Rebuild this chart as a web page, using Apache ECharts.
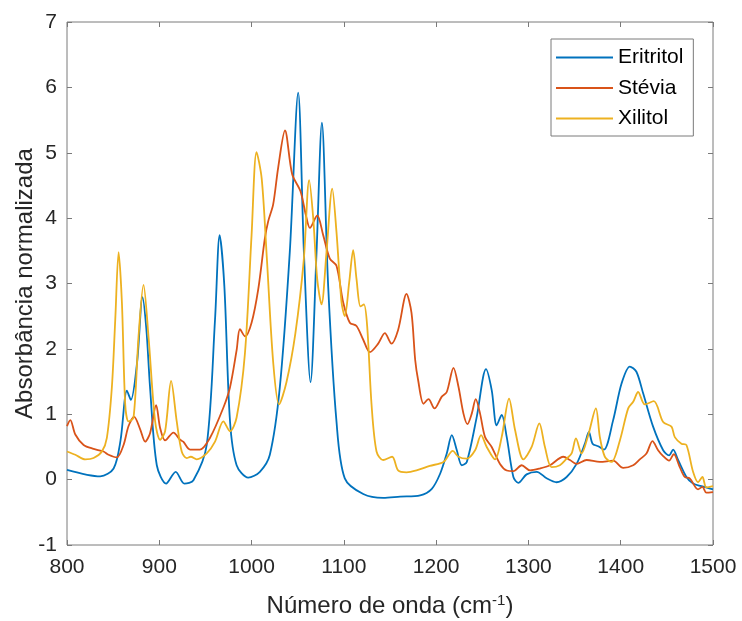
<!DOCTYPE html>
<html>
<head>
<meta charset="utf-8">
<script src="https://cdn.jsdelivr.net/npm/echarts@6/dist/echarts.min.js"></script>
<style>
html,body{margin:0;padding:0;background:#fff;}
#chart{width:742px;height:621px;}
</style>
</head>
<body>
<div id="chart"></div>
<script>
// Wavenumber positions and normalized absorbance
const eritritolX = [800,836,850.5,858,864.9,869.2,876,881.8,886,890,897.3,907.4,917.8,927.2,937,951.4,960.4,965.4,970.5,976.6,983.8,996.4,1009,1019.8,1030.6,1041.4,1050.5,1056.7,1063.9,1070.4,1076.2,1083,1092,1101,1121,1142.6,1161,1182.7,1195.3,1204.3,1211.5,1217,1222.4,1227.8,1233.2,1244,1254,1260.2,1265.6,1271,1276.5,1283.7,1289,1298,1309,1319.7,1330.5,1341.4,1352.2,1361.2,1365.5,1369.5,1375.6,1381.8,1391.8,1400.9,1409.9,1417,1424.3,1435.1,1446,1452.4,1456.8,1462.2,1471.2,1478.4,1487.4,1500];
const eritritolY = [0.15,0.05,0.17,0.6,1.36,1.22,1.8,2.79,2.3,1.41,0.22,-0.06,0.12,-0.06,-0.01,0.53,2.45,3.74,2.96,0.9,0.22,0.03,0.12,0.38,1.41,3.48,5.92,3.48,1.49,3.48,5.46,2.96,0.89,0.02,-0.22,-0.28,-0.26,-0.24,-0.14,0.09,0.40,0.68,0.45,0.22,0.27,0.96,1.69,1.37,0.83,0.99,0.65,0.04,-0.05,0.08,0.12,0.02,-0.04,0.04,0.24,0.55,0.73,0.55,0.51,0.46,0.91,1.47,1.73,1.65,1.32,0.81,0.45,0.37,0.46,0.30,0.04,-0.06,-0.10,-0.15];

const steviaX = [800,803.6,809,818,828.8,839.6,845,854,861.3,866.7,872.8,879.3,884.7,890,896.6,900.9,906.3,915.3,922.5,926,933.3,944.1,955,969.4,976.6,983.8,987.4,993,1000,1007.2,1014.4,1018,1023.4,1028.8,1036.2,1044,1053,1058.8,1063.2,1071.1,1077.6,1084.8,1092,1099.3,1106.5,1113.7,1121,1128.2,1137.2,1144.4,1151.6,1158.8,1167.9,1173.3,1177.3,1180.5,1186.3,1191.7,1198.2,1206.1,1211.5,1218.8,1224.2,1229.6,1233.9,1238.6,1242.9,1247.6,1253,1260.2,1269.2,1276.5,1283.7,1292.7,1301.7,1312.5,1323.3,1337.8,1345,1352.2,1363,1377.4,1391.8,1402.7,1413.5,1420.7,1427.9,1434.4,1440.5,1446,1452.4,1457.5,1464,1469.4,1474.8,1483.8,1488.5,1492.8,1500];
const steviaY = [0.82,0.91,0.69,0.53,0.47,0.43,0.38,0.34,0.53,0.82,0.96,0.77,0.58,0.71,1.14,0.79,0.60,0.72,0.61,0.58,0.46,0.46,0.64,1.10,1.41,1.98,2.30,2.19,2.40,2.91,3.69,3.95,4.21,4.77,5.34,4.67,4.41,4.05,3.85,4.04,3.74,3.38,3.27,2.71,2.40,2.35,2.14,1.95,2.08,2.24,2.08,2.29,2.84,2.55,1.83,1.52,1.16,1.23,1.09,1.27,1.34,1.71,1.42,1.01,0.85,1.01,1.23,1.01,0.65,0.50,0.24,0.14,0.13,0.22,0.14,0.17,0.22,0.35,0.30,0.24,0.30,0.27,0.29,0.18,0.22,0.31,0.40,0.59,0.45,0.36,0.29,0.39,0.19,0.04,0.02,-0.15,-0.11,-0.20,-0.19];

const xilitolX = [800,809,819.8,828.8,837.8,843.2,848.6,852.3,855.9,859.5,863.1,866.7,872.1,877.5,882.9,888.3,895.5,900.9,906.3,912.8,918.9,924.3,929.7,934.1,940.5,951.4,960.4,969.4,976.6,983.8,992.8,1000,1005.4,1011,1016.5,1023.4,1029.8,1037.8,1047.5,1056.5,1062.4,1066.8,1071.1,1075.8,1081.2,1087.4,1092,1097.5,1101,1105.8,1110.1,1113.7,1118,1121.7,1125.3,1130,1135.4,1142.6,1152.3,1158.8,1167.9,1178.7,1193.1,1207.9,1218,1224.2,1233.2,1242.2,1248.7,1254.8,1263.8,1271,1279,1285.5,1294.5,1303.5,1311.8,1317.9,1325.1,1334.1,1341.4,1346.8,1351.5,1357.6,1364.8,1373.1,1377.4,1382.8,1390,1399.1,1408.1,1413.5,1418.9,1426.1,1435.8,1446,1455,1458.6,1465.8,1471.2,1478.4,1483.8,1488.5,1492.8,1500];
const xilitolY = [0.43,0.38,0.31,0.33,0.43,0.64,1.41,2.45,3.48,2.71,1.15,0.89,0.95,2.19,2.98,2.19,0.89,0.61,0.74,1.51,0.89,0.43,0.33,0.35,0.31,0.40,0.58,0.89,0.74,0.95,1.93,3.74,5.01,4.6,3.4,1.8,1.15,1.49,2.24,3.35,4.58,4.0,3.07,2.68,3.48,4.45,3.79,2.71,2.50,3.02,3.51,3.07,2.65,2.68,2.34,1.15,0.43,0.30,0.35,0.14,0.11,0.14,0.21,0.27,0.44,0.35,0.32,0.45,0.68,0.50,0.31,0.65,1.24,0.76,0.31,0.50,0.86,0.50,0.19,0.22,0.32,0.40,0.63,0.40,0.68,1.09,0.65,0.35,0.27,0.60,1.09,1.19,1.34,1.15,1.20,0.88,0.81,0.65,0.55,0.53,0.12,-0.04,0.04,-0.12,-0.10];

const seriesNames = ['Eritritol','Stévia','Xilitol'];
const seriesColors = ['#0072BD','#D95319','#EDB120'];

function pairs(xs, ys){ return xs.map((x,i)=>[x, ys[i]]); }
const allData = [pairs(eritritolX, eritritolY), pairs(steviaX, steviaY), pairs(xilitolX, xilitolY)];

const font = 'Liberation Sans, Arial, Helvetica, sans-serif';
const boxColor = '#7a7a7a';
const textColor = '#262626';
const tickStyle = {show:true, inside:true, length:5, lineStyle:{color:boxColor}};

const chart = echarts.init(document.getElementById('chart'), null, {renderer:'canvas'});
chart.setOption({
  animation:false,
  backgroundColor:'#ffffff',
  grid:{left:67, right:29, top:22, bottom:76, outerBoundsMode:'none', containLabel:false, show:true, borderColor:boxColor, borderWidth:1, backgroundColor:'transparent'},
  legend:{
    data:seriesNames,
    orient:'vertical',
    left:551, top:39,
    padding:[8,10,7,5],
    itemWidth:57, itemHeight:2, itemGap:9.5,
    icon:'rect',
    borderColor:boxColor, borderWidth:1, backgroundColor:'#fff',
    textStyle:{fontFamily:font, fontSize:21, color:'#000', lineHeight:20}
  },
  xAxis:[{
    type:'value', min:800, max:1500, interval:100, position:'bottom',
    name:'{t|Número de onda (cm}{s|-1}{t|)}',
    nameLocation:'middle', nameGap:48, nameMoveOverlap:false,
    nameTextStyle:{fontFamily:font, fontSize:24, color:textColor,
      rich:{t:{fontFamily:font, fontSize:24, color:textColor}, s:{fontFamily:font, fontSize:15, color:textColor, verticalAlign:'top', padding:[0,0,12,0]}}},
    axisLine:{show:false, onZero:false},
    axisTick:tickStyle,
    axisLabel:{fontFamily:font, fontSize:21, color:textColor, margin:12, formatter:v=>String(v)},
    splitLine:{show:false}
  },{
    type:'value', min:800, max:1500, interval:100, position:'top',
    axisLine:{show:false, onZero:false},
    axisTick:tickStyle,
    axisLabel:{show:false}, splitLine:{show:false}
  }],
  yAxis:[{
    type:'value', min:-1, max:7, interval:1, position:'left',
    name:'Absorbância normalizada',
    nameLocation:'middle', nameGap:30, nameMoveOverlap:false,
    nameTextStyle:{fontFamily:font, fontSize:24, color:textColor},
    axisLine:{show:false, onZero:false},
    axisTick:tickStyle,
    axisLabel:{fontFamily:font, fontSize:21, color:textColor, margin:10},
    splitLine:{show:false}
  },{
    type:'value', min:-1, max:7, interval:1, position:'right',
    axisLine:{show:false, onZero:false},
    axisTick:tickStyle,
    axisLabel:{show:false}, splitLine:{show:false}
  }],
  series: seriesNames.map((n,i)=>({
    name:n, type:'line', data:allData[i],
    xAxisIndex:0, yAxisIndex:0,
    showSymbol:false, symbol:'none',
    smooth:0.3,
    lineStyle:{color:seriesColors[i], width:1.8},
    itemStyle:{color:seriesColors[i]},
    clip:true
  }))
});
</script>
</body>
</html>
